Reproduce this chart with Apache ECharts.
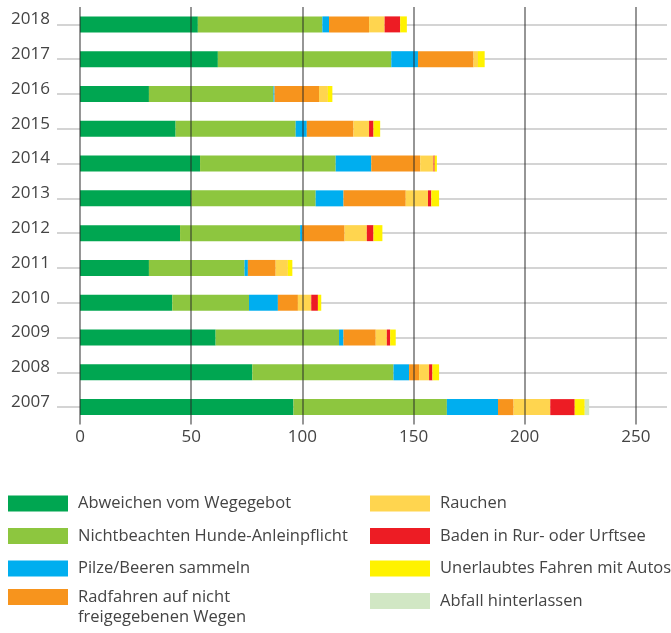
<!DOCTYPE html>
<html>
<head>
<meta charset="utf-8">
<script src="https://cdn.jsdelivr.net/npm/echarts@6/dist/echarts.min.js"></script>
<style>
  html, body { margin: 0; padding: 0; background: #fff; }
  #chart { width: 671px; height: 633px; }
</style>
</head>
<body>
<div id="chart"></div>
<script>
// Categories (top to bottom)
const years = ['2018', '2017', '2016', '2015', '2014', '2013', '2012', '2011', '2010', '2009', '2008', '2007'];

// Series values
const abweichen = [53, 62, 31, 43, 54, 50, 45, 31, 41.5, 61, 77.5, 96];
const hunde = [56, 78, 56, 54, 61, 56, 54, 43, 34.5, 55.5, 63.5, 69];
const pilze = [3, 12, 0.5, 5, 16, 12.5, 1, 1.5, 13, 2, 7, 23];
const radfahren = [18, 25, 20, 21, 22, 28, 19, 12.5, 9, 14.5, 4.5, 7];
const rauchen = [7, 2, 4, 7, 6, 10, 10, 5.5, 6, 5, 4.5, 16.5];
const baden = [7, 0, 0, 2, 0.5, 1.5, 3, 0, 3, 1.5, 1.5, 11];
const autos = [3, 3, 2, 3, 1, 3.5, 4, 2, 1.5, 2.5, 3, 4.5];
const abfall = [0, 0, 0, 0, 0, 0, 0, 0, 0, 0, 0, 2];

const SERIES = [
  { name: 'Abweichen vom Wegegebot', data: abweichen, color: '#00a651' },
  { name: 'Nichtbeachten Hunde-Anleinpflicht', data: hunde, color: '#8dc63f' },
  { name: 'Pilze/Beeren sammeln', data: pilze, color: '#00aeef' },
  { name: 'Radfahren auf nicht\nfreigegebenen Wegen', data: radfahren, color: '#f7941d' },
  { name: 'Rauchen', data: rauchen, color: '#ffd54f' },
  { name: 'Baden in Rur- oder Urftsee', data: baden, color: '#ed1c24' },
  { name: 'Unerlaubtes Fahren mit Autos', data: autos, color: '#fff200' },
  { name: 'Abfall hinterlassen', data: abfall, color: '#d1e7c4' }
];

const FONT = '"Open Sans", sans-serif';
const TEXT = '#444';

const chart = echarts.init(document.getElementById('chart'), null, { renderer: 'canvas' });

const legendText = { color: TEXT, fontSize: 16.5, fontFamily: FONT, lineHeight: 16, padding: [0, 0, 0, 5] };
const legendBase = {
  orient: 'vertical',
  icon: 'rect',
  itemWidth: 60,
  itemHeight: 16,
  itemGap: 15.5,
  padding: 0,
  selectedMode: false,
  textStyle: legendText
};

const option = {
  animation: false,
  backgroundColor: '#fff',
  grid: { left: 80, right: 4, top: 7, bottom: 208.5, containLabel: false },
  legend: [
    { ...legendBase, left: 8, top: 495, data: SERIES.slice(0, 3).map(s => s.name) },
    {
      // two-line entry: a blank first line keeps the swatch level with "Radfahren"
      ...legendBase, left: 8, top: 567, data: [SERIES[3].name],
      formatter: name => '\n' + name,
      textStyle: { ...legendText, lineHeight: 20 }
    },
    { ...legendBase, left: 370, top: 495, data: SERIES.slice(4).map(s => s.name) }
  ],
  xAxis: {
    type: 'value',
    min: 0,
    max: 264,
    interval: 50,
    z: 5,
    axisLine: { show: false },
    axisTick: { show: false },
    axisLabel: {
      color: TEXT, fontSize: 17, fontFamily: FONT, margin: 4,
      showMaxLabel: false
    },
    splitLine: {
      show: true,
      showMaxLine: false,
      lineStyle: { color: 'rgba(40,40,40,0.65)', width: 1.5 }
    }
  },
  yAxis: {
    type: 'category',
    data: years,
    inverse: true,
    axisLine: { show: false },
    axisTick: {
      show: true, alignWithLabel: true, length: 23,
      lineStyle: { color: '#d4d4d4', width: 2 }
    },
    axisLabel: {
      color: TEXT, fontSize: 17, fontFamily: FONT, margin: 30,
      verticalAlign: 'bottom', lineHeight: 10
    },
    splitLine: { show: false }
  },
  series: [
    // gray guide line through each year, behind the bars
    {
      type: 'line',
      name: 'guides',
      data: [],
      z: 1,
      silent: true,
      markLine: {
        z: 1,
        silent: true,
        symbol: 'none',
        label: { show: false },
        lineStyle: { color: '#d4d4d4', width: 2, type: 'solid' },
        data: years.map(y => ({ yAxis: y }))
      }
    },
    ...SERIES.map(s => ({
      type: 'bar',
      name: s.name,
      stack: 'total',
      data: s.data,
      barWidth: 16,
      z: 2,
      itemStyle: { color: s.color },
      emphasis: { disabled: true }
    }))
  ]
};

chart.setOption(option);
</script>
</body>
</html>
